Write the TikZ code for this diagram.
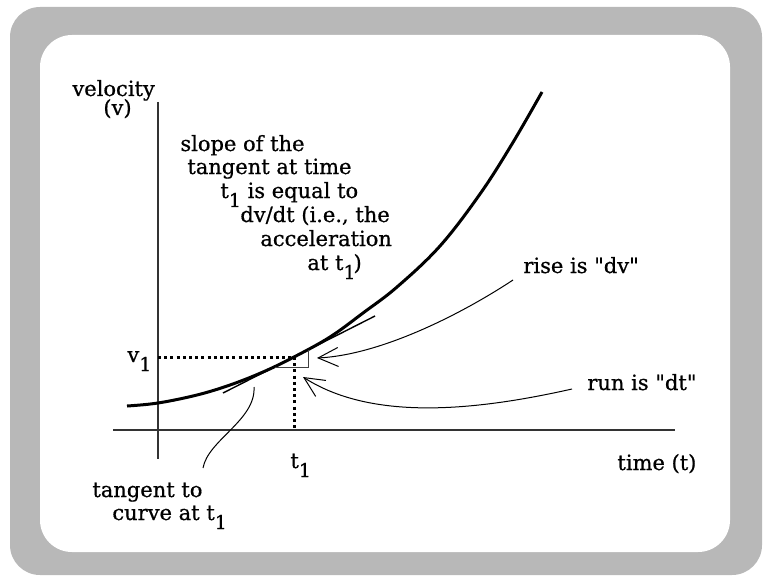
\documentclass[tikz,border=0pt]{standalone}
\usepackage{fontspec}
\setmainfont{DejaVu Serif}[Ligatures=TeXOff,BoldFont={DejaVu Serif},BoldFeatures={FakeBold=0.7}]
\usetikzlibrary{arrows.meta}
\newcommand\sbone{\raisebox{-4.5pt}{\fontsize{9.5}{9.5}\selectfont 1}}
\begin{document}
\begin{tikzpicture}[x=0.5pt,y=-0.5pt,
  lbl/.style={anchor=base west,inner sep=0pt,font=\fontsize{10.5}{12}\selectfont\bfseries},
  axis/.style={line width=0.8pt,black!80},
  dotline/.style={line width=1.5pt,dash pattern=on 1.5pt off 1.6pt},
  thinline/.style={line width=0.5pt},
  barb/.style={-{Straight Barb[length=10pt,width=9.5pt,line width=0.5pt]},line width=0.5pt}]
\useasboundingbox (0,0) rectangle (763,577);
% frame
\fill[black!28,rounded corners=15pt] (10,7) rectangle (762,575);
\fill[white,rounded corners=16pt] (40,35) rectangle (730,552);
% axes
\coordinate (vtop) at (158,102);
\coordinate (vbot) at (158,459);
\coordinate (hl) at (113,430);
\coordinate (hr) at (675,430);
\draw[axis] (vtop) -- (vbot);
\draw[axis] (hl) -- (hr);
% point
\coordinate (P) at (294,357);
\coordinate (Pv) at (158,357);
\coordinate (Pt) at (294,430);
\draw[dotline] (Pv) -- (P);
\draw[dotline] (P) -- (Pt);
% curve
\draw[line width=1.5pt] plot[smooth,tension=0.6] coordinates {(127,406) (158,403) (197,395) (230,385) (263,372) (294,357) (330,337) (363,313) (397,287) (440,246) (480,194) (512,144) (542,92)};
% tangent
\coordinate (ta) at (223,393);
\coordinate (tb) at (375,316);
\draw[line width=0.7pt] (ta) -- (tb);
% triangle
\coordinate (ra) at (275,367);
\coordinate (rb) at (308,367);
\coordinate (rc) at (308,350);
\draw[thinline,black!75] (ra) -- (rb) -- (rc);
% labels
\node[lbl] (vel) at (72,96) {velocity};
\node[lbl] (velv) at (103,115) {(v)};
\node[lbl] (s1) at (180,151) {slope of the};
\node[lbl] (s2) at (187,174) {tangent at time};
\node[lbl] (s3) at (220,198) {t\sbone\ is equal to};
\node[lbl] (s4) at (240,222) {dv/dt (i.e., the};
\node[lbl] (s5) at (260,246) {acceleration};
\node[lbl] (s6) at (307,270) {at t\sbone\kern-1pt)};
\node[lbl] (rise) at (523,273) {rise is "dv"};
\node[lbl] (run) at (587,390) {run is "dt"};
\node[lbl] (time) at (617,470) {time (t)};
\node[lbl] (tone) at (290,468) {t\sbone};
\node[lbl] (vone) at (127,362) {v\sbone};
\node[lbl] (tg1) at (92,497) {tangent to};
\node[lbl] (tg2) at (112,520) {curve at t\sbone};
% connectors
\coordinate (tgs) at (203,468);
\coordinate (tge) at (254,387);
\draw[thinline] (tgs) .. controls (208,440) and (256,420) .. (tge);
\coordinate (rs) at (513,280);
\coordinate (re) at (317,358);
\draw[barb] (rs) .. controls (460,315) and (380,355) .. (re);
\coordinate (us) at (572,389);
\coordinate (ue) at (303,377);
\draw[barb] (us) .. controls (470,412) and (370,420) .. (ue);
\end{tikzpicture}
\end{document}
